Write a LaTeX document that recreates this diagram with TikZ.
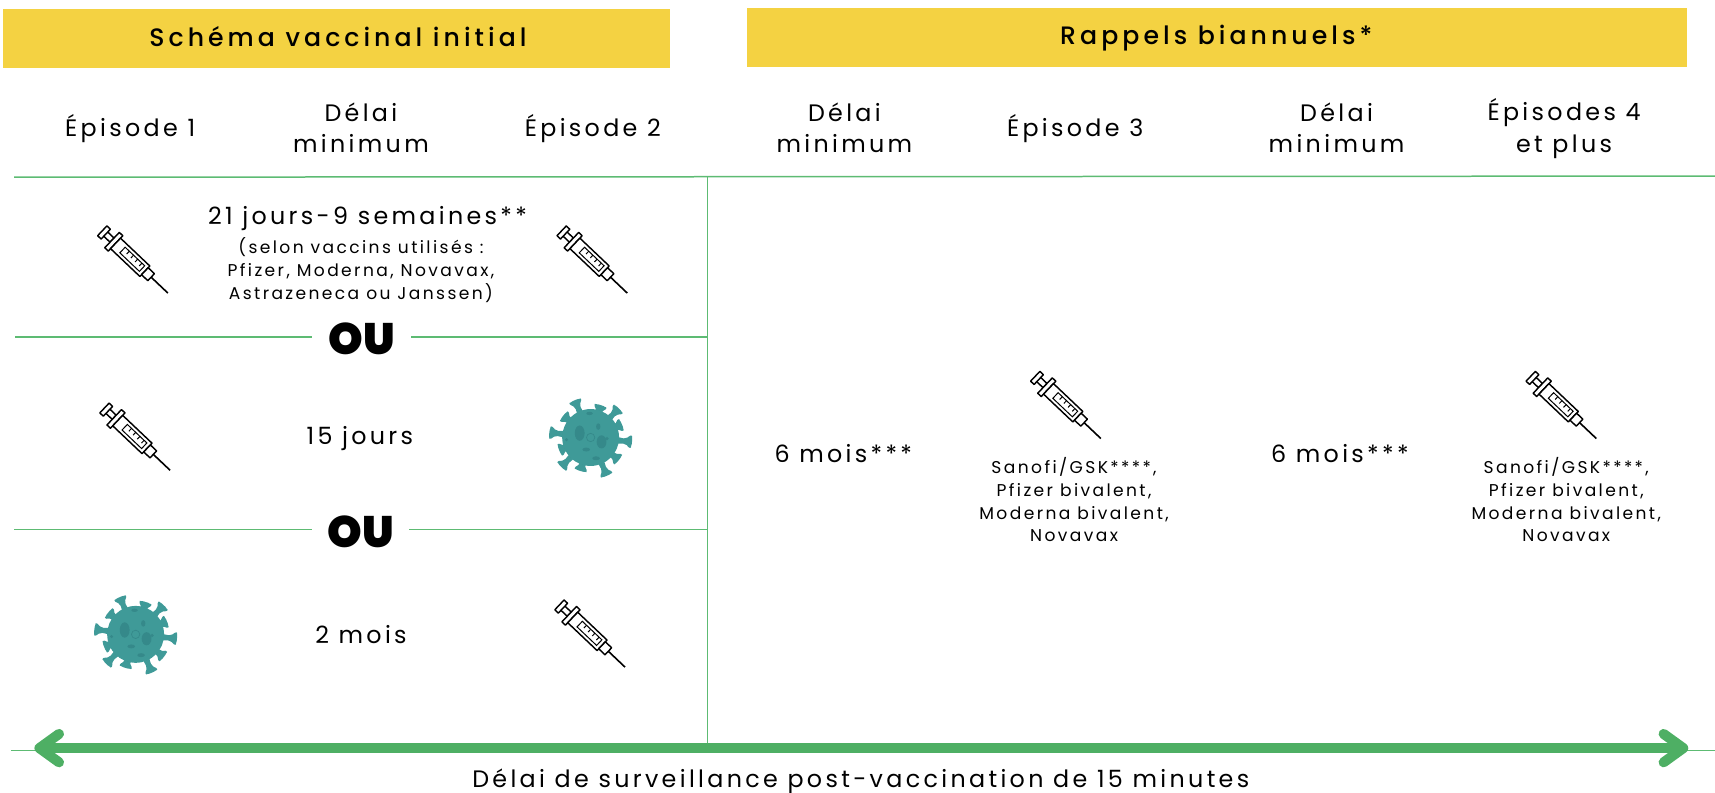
\documentclass[tikz,border=0pt]{standalone}
\usepackage{fontspec}
\setmainfont{Poppins}[LetterSpace=14]
\newfontfamily\oufont{Poppins Black}
\newfontfamily\medfont{Poppins Medium}[LetterSpace=16]
\definecolor{ybar}{HTML}{F4D242}
\definecolor{gline}{HTML}{5DBB73}
\definecolor{garrow}{HTML}{4EAF64}
\definecolor{vir}{HTML}{3F9A98}
\definecolor{virdark}{HTML}{35898A}
\tikzset{
  x=0.547pt,y=-0.547pt,
  bar/.style={fill=ybar,draw=none},
  bartitle/.style={font=\fontsize{12.6}{15}\selectfont\medfont,text=black,anchor=center,inner sep=0},
  head/.style={font=\fontsize{11.9}{15.6}\selectfont,align=center,anchor=center,inner sep=0},
  small/.style={font=\fontsize{8.55}{11.3}\selectfont,align=center,anchor=center,inner sep=0},
  ouword/.style={font=\fontsize{22}{24}\selectfont\oufont,anchor=center,inner sep=0},
  rule/.style={draw=gline,line width=0.75pt},
  syr/.style={draw=black,line width=0.72pt,line join=round,fill=white},
  pics/syringe/.style={code={
    \begin{scope}[shift={(1.5,1.5)},rotate=-43.5,scale=0.88]
      \draw[syr] (-45,-3) -- (-33,-3) -- (-33,3) -- (-45,3) -- cycle;
      \draw[syr] (-47,-7) rectangle (-42,7);
      \draw[syr] (-33,-11) rectangle (-28,11);
      \draw[syr] (-28,-7.5) rectangle (14,7.5);
      \draw[black,line width=0.5pt] (-18,-4) -- (10,-4) -- (10,4) -- (-18,4) -- cycle;
      \foreach \q in {-12,-6,0,6}{\draw[black,line width=0.5pt] (\q,-4) -- (\q,0);}
      \draw[syr] (14,-5) rectangle (23,5);
      \draw[black,line width=0.8pt] (23,0) -- (47,0);
    \end{scope}
  }},
  pics/virus/.style={code={
    \foreach \a/\l in {113/37,72.5/31,46/37,22.6/31,-6/38,-38.6/33,-67/38,-107/32,-135/38,-158/31,-187/38,-218.5/32}{
      \begin{scope}[rotate=\a]
        \fill[vir,rounded corners=1pt] (22,-3.2) -- (\l-6,-2.2) -- (\l-1,-6.5) -- (\l,-4) -- (\l,4) -- (\l-1,6.5) -- (\l-6,2.2) -- (22,3.2) -- cycle;
        \draw[virdark,line width=0.3pt] (20,-6) -- (25.5,0) -- (20,6);
      \end{scope}
    }
    \fill[vir] (0,0) circle (26);
    \fill[virdark] (-10,-4) ellipse (4.5 and 7);
    \fill[virdark] (10,4) ellipse (4.5 and 6);
    \fill[virdark] (-4,11) ellipse (3.5 and 1.8);
    \fill[virdark] (5,19) ellipse (3.5 and 1.8);
    \fill[virdark] (7,-10) ellipse (2 and 3);
    \fill[virdark] (15,1) circle (1.6);
    \fill[virdark] (-1,-22) ellipse (3 and 1.5);
    \fill[virdark] (-22,2) circle (1.5);
    \draw[virdark,line width=0.35pt] (0,0) circle (3.8);
  }}
}
\begin{document}
\begin{tikzpicture}
\useasboundingbox (0,0) rectangle (1568,725);
% title bars
\fill[bar] (3,8) rectangle (613,62);
\fill[bar] (683,7) rectangle (1542,61);
\node[bartitle] (t1) at (309,33.5) {Schéma vaccinal initial};
\node[bartitle] (t2) at (1112,34.5) {Rappels biannuels*};
% column heads
\node[head] (h1) at (119,118) {Épisode 1};
\node[head] (h2) at (330,117) {Délai\\minimum};
\node[head] (h3) at (542,118) {Épisode 2};
\node[head] (h4) at (772,117) {Délai\\minimum};
\node[head] (h5) at (983,118) {Épisode 3};
\node[head] (h6) at (1222,117) {Délai\\minimum};
\node[head] (h7) at (1430,117.5) {Épisodes 4\\et plus};
% rules
\coordinate (r1a) at (13,162); \coordinate (r1b) at (1568,161);
\coordinate (va) at (647,162); \coordinate (vb) at (647,681);
\coordinate (o1a) at (14,308); \coordinate (o1b) at (647,308);
\coordinate (o2a) at (13,484); \coordinate (o2b) at (647,484);
\coordinate (bota) at (10,686); \coordinate (botb) at (1568,686);
\coordinate (arra) at (36,684); \coordinate (arrb) at (1539,684);
\node[ouword] (ou1) at (331,310) {OU};
\node[ouword] (ou2) at (330,486) {OU};
\draw[rule] (r1a) -- (r1b);
\draw[rule] (va) -- (vb);
\draw[rule] (o1a) -- (285,308);
\draw[rule] (376,308) -- (o1b);
\draw[rule] (o2a) -- (285,484);
\draw[rule] (374,484) -- (o2b);
\draw[rule] (bota) -- (botb);
\draw[garrow,line width=5pt] (arra) -- (arrb);
\draw[garrow,line width=5pt,line cap=round,line join=round] (54,671) -- (36,684) -- (54,697);
\draw[garrow,line width=5pt,line cap=round,line join=round] (1521,671) -- (1539,684) -- (1521,697);
% row 1
\pic at (122,238) {syringe};
\pic at (542,238) {syringe};
\node[head] (d1) at (336,200) {21 jours-9 semaines**};
\node[small] (d1s) at (330,247) {(selon vaccins utilisés :\\Pfizer, Moderna, Novavax,\\Astrazeneca ou Janssen)};
% row 2
\pic at (124,400) {syringe};
\node[head] (d2) at (329,401) {15 jours};
\pic at (540,400) {virus};
% row 3
\pic at (124,580) {virus};
\node[head] (d3) at (330,580) {2 mois};
\pic at (540,580) {syringe};
% right
\node[head] (m1) at (771,415) {6 mois***};
\pic at (975,371) {syringe};
\node[small] (v1) at (982,457) {Sanofi/GSK****,\\Pfizer bivalent,\\Moderna bivalent,\\Novavax};
\node[head] (m2) at (1225,415) {6 mois***};
\pic at (1428,371) {syringe};
\node[small] (v2) at (1432,457) {Sanofi/GSK****,\\Pfizer bivalent,\\Moderna bivalent,\\Novavax};
% bottom
\node[head] (foot) at (787,714.5) {Délai de surveillance post-vaccination de 15 minutes};
\end{tikzpicture}
\end{document}
